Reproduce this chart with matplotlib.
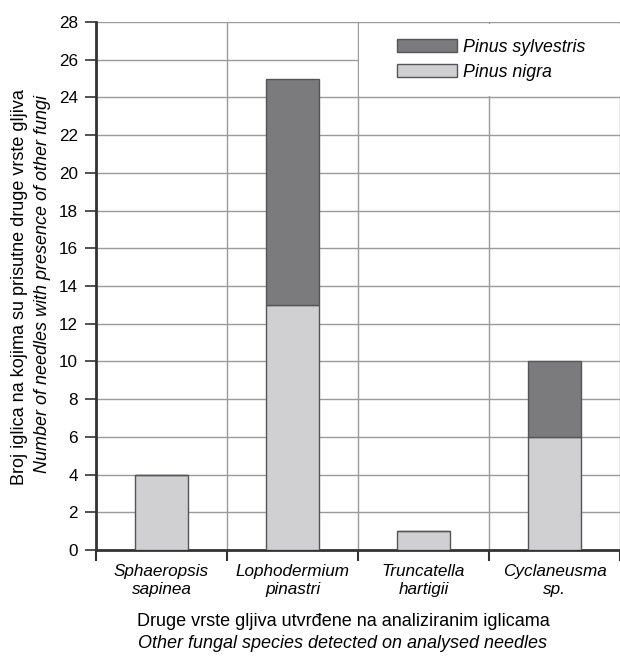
import matplotlib.pyplot as plt
from matplotlib.patches import Rectangle

plt.rcParams['font.family'] = ['Liberation Sans', 'DejaVu Sans']

categories = ['Sphaeropsis\nsapinea', 'Lophodermium\npinastri', 'Truncatella\nhartigii', 'Cyclaneusma\nsp.']
nigra = [4, 13, 1, 6]
sylvestris = [0, 12, 0, 4]
y_ticks = [0, 2, 4, 6, 8, 10, 12, 14, 16, 18, 20, 22, 24, 26, 28]

c_nigra = '#d0d0d2'
c_sylv = '#7b7b7e'
edge = '#555555'
grid_c = '#9a9a9a'

fig = plt.figure(figsize=(6.2, 6.58), dpi=100)
ax = fig.add_axes([96/620, 108/658, 524/620, 528/658])

x = [i + 0.5 for i in range(len(categories))]
ax.bar(x, nigra, width=0.41, color=c_nigra, edgecolor=edge, linewidth=1, zorder=3, label='Pinus nigra')
ax.bar(x, sylvestris, width=0.41, bottom=nigra, color=c_sylv, edgecolor=edge, linewidth=1, zorder=3,
       label='Pinus sylvestris')

ax.set_xlim(0, 4)
ax.set_ylim(0, 28)
ax.set_yticks(y_ticks)
ax.set_xticks([0, 1, 2, 3, 4])
ax.set_xticklabels([])
ax.set_xticks(x, minor=True)
ax.set_xticklabels(categories, minor=True, style='italic', fontsize=12.3, linespacing=1.3)
ax.tick_params(axis='x', which='minor', length=0, pad=10)
ax.tick_params(axis='x', which='major', length=8, width=1.5, color='#333333', direction='out')
ax.tick_params(axis='y', length=8, width=1.2, color='#333333', labelsize=12.3, pad=5)

ax.grid(True, which='major', color=grid_c, linewidth=1, zorder=0)
ax.set_axisbelow(True)
for s in ['top', 'right']:
    ax.spines[s].set_visible(False)
for s in ['left', 'bottom']:
    ax.spines[s].set_color('#333333')
    ax.spines[s].set_linewidth(2)

# white box behind the legend
ax.add_patch(Rectangle((2.01, 24.1), 2, 3.8, facecolor='white', edgecolor='none', zorder=2))
h, l = ax.get_legend_handles_labels()
ax.legend(h[::-1], l[::-1], loc='upper left', bbox_to_anchor=(0.574, 0.968), frameon=False,
          prop={'style': 'italic', 'size': 12.8}, handlelength=3.4, handleheight=0.7,
          handletextpad=0.35, labelspacing=0.45, borderpad=0, borderaxespad=0)

fig.text(20/620, 1 - 287/658, 'Broj iglica na kojima su prisutne druge vrste gljiva',
         rotation=90, ha='center', va='center', fontsize=13)
fig.text(43/620, 1 - 284/658, 'Number of needles with presence of other fungi',
         rotation=90, ha='center', va='center', fontsize=13, style='italic')
fig.text(343/620, 1 - 622/658, 'Druge vrste gljiva utvrđene na analiziranim iglicama',
         ha='center', va='center', fontsize=13)
fig.text(343/620, 1 - 644/658, 'Other fungal species detected on analysed needles',
         ha='center', va='center', fontsize=13, style='italic')

fig.savefig('out.png', dpi=100)
